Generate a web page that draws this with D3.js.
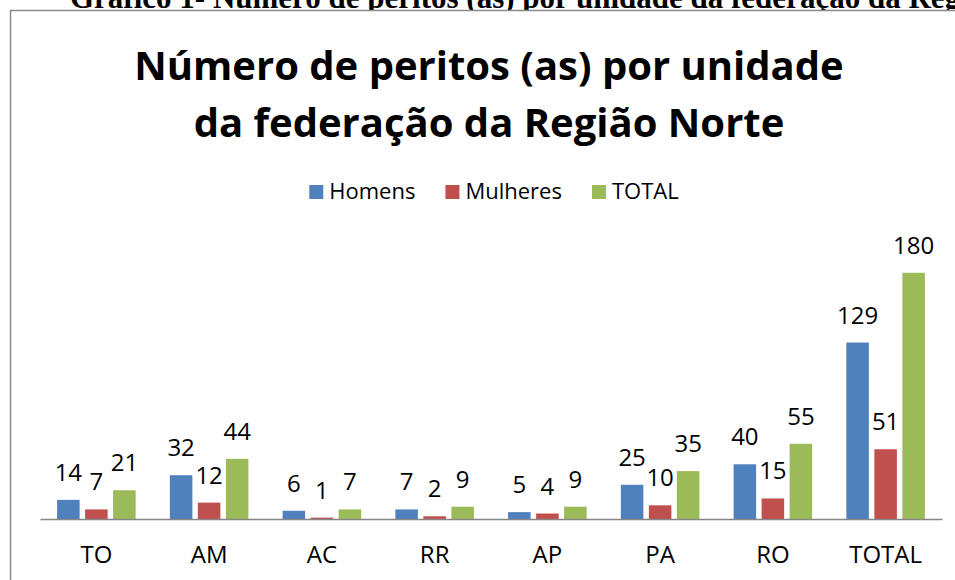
<!DOCTYPE html>
<html>
<head>
<meta charset="utf-8">
<script src="https://cdn.jsdelivr.net/npm/d3@7"></script>
<style>
  body { margin: 0; background: #fff; }
  svg { display: block; }
</style>
</head>
<body>
<div id="chart"></div>
<script>
var categories = ["TO", "AM", "AC", "RR", "AP", "PA", "RO", "TOTAL"];
var series = ["Homens", "Mulheres", "TOTAL"];
var homens = [14, 32, 6, 7, 5, 25, 40, 129];
var mulheres = [7, 12, 1, 2, 4, 10, 15, 51];
var total = [21, 44, 7, 9, 9, 35, 55, 180];
var colors = ["#4F81BD", "#C0504D", "#9BBB59"];

var width = 955, height = 580;
var font = "'Open Sans', sans-serif";

var svg = d3.select("#chart").append("svg")
    .attr("width", width)
    .attr("height", height);

// caption of the document, cut off at the top (as in the scan)
svg.append("text")
    .attr("x", 70)
    .attr("y", 8)
    .style("font-family", "'Liberation Serif', 'Times New Roman', serif")
    .style("font-weight", "bold")
    .style("font-size", "31px")
    .text("Gráfico 1- Número de peritos (as) por unidade da federação da Região Norte");

// chart area
svg.append("rect")
    .attr("x", 10.5)
    .attr("y", 10.5)
    .attr("width", 980)
    .attr("height", 600)
    .attr("fill", "#fff")
    .attr("stroke", "#8a8a8a")
    .attr("stroke-width", 1.5);

var title = svg.append("text")
    .attr("text-anchor", "middle")
    .style("font-family", font)
    .style("font-weight", "bold")
    .style("font-size", "40px");
title.append("tspan").attr("x", 489).attr("y", 80).text("Número de peritos (as) por unidade");
title.append("tspan").attr("x", 489).attr("y", 137).text("da federação da Região Norte");

// legend
var legend = svg.append("g").attr("class", "legend");
var lx = 0;
series.forEach(function(s, i) {
    var item = legend.append("g").attr("transform", "translate(" + lx + ",0)");
    item.append("rect")
        .attr("x", 0).attr("y", -14)
        .attr("width", 14).attr("height", 14)
        .attr("fill", colors[i]);
    var t = item.append("text")
        .attr("x", 20).attr("y", 0)
        .style("font-family", font)
        .style("font-size", "22px")
        .text(s);
    lx += 20 + t.node().getComputedTextLength() + 30;
});
lx -= 30;
legend.attr("transform", "translate(" + (494 - lx / 2) + ",199)");

var x0 = d3.scaleBand()
    .domain(categories)
    .range([40, 942]);

var x1 = d3.scaleBand()
    .domain(series)
    .range([0, x0.bandwidth()])
    .paddingInner(0.196)
    .paddingOuter(0.61);

var y = d3.scaleLinear()
    .domain([0, 200])
    .range([519, 245.4]);

var rows = categories.map(function(c, i) {
    return { cat: c, values: [homens[i], mulheres[i], total[i]] };
});

var groups = svg.selectAll(".group")
    .data(rows).enter()
    .append("g")
    .attr("class", "group")
    .attr("transform", function(d) { return "translate(" + x0(d.cat) + ",0)"; });

groups.selectAll("rect")
    .data(function(d) { return d.values.map(function(v, j) { return { s: series[j], v: v, j: j }; }); })
    .enter().append("rect")
    .attr("x", function(d) { return x1(d.s); })
    .attr("y", function(d) { return y(d.v); })
    .attr("width", x1.bandwidth())
    .attr("height", function(d) { return y(0) - y(d.v); })
    .attr("fill", function(d) { return colors[d.j]; });

groups.selectAll("text")
    .data(function(d) { return d.values.map(function(v, j) { return { s: series[j], v: v }; }); })
    .enter().append("text")
    .attr("x", function(d) { return x1(d.s) + x1.bandwidth() / 2; })
    .attr("y", function(d) { return y(d.v) - 19; })
    .attr("text-anchor", "middle")
    .style("font-family", font)
    .style("font-size", "24px")
    .text(function(d) { return d.v; });

var xAxis = svg.append("g")
    .attr("transform", "translate(0," + y(0) + ")")
    .call(d3.axisBottom(x0).tickSize(0).tickPadding(27));

xAxis.select(".domain").attr("stroke", "#868686").attr("stroke-width", 1.5);
xAxis.selectAll("text")
    .attr("fill", "#000")
    .style("font-family", font)
    .style("font-size", "24px");
</script>
</body>
</html>
